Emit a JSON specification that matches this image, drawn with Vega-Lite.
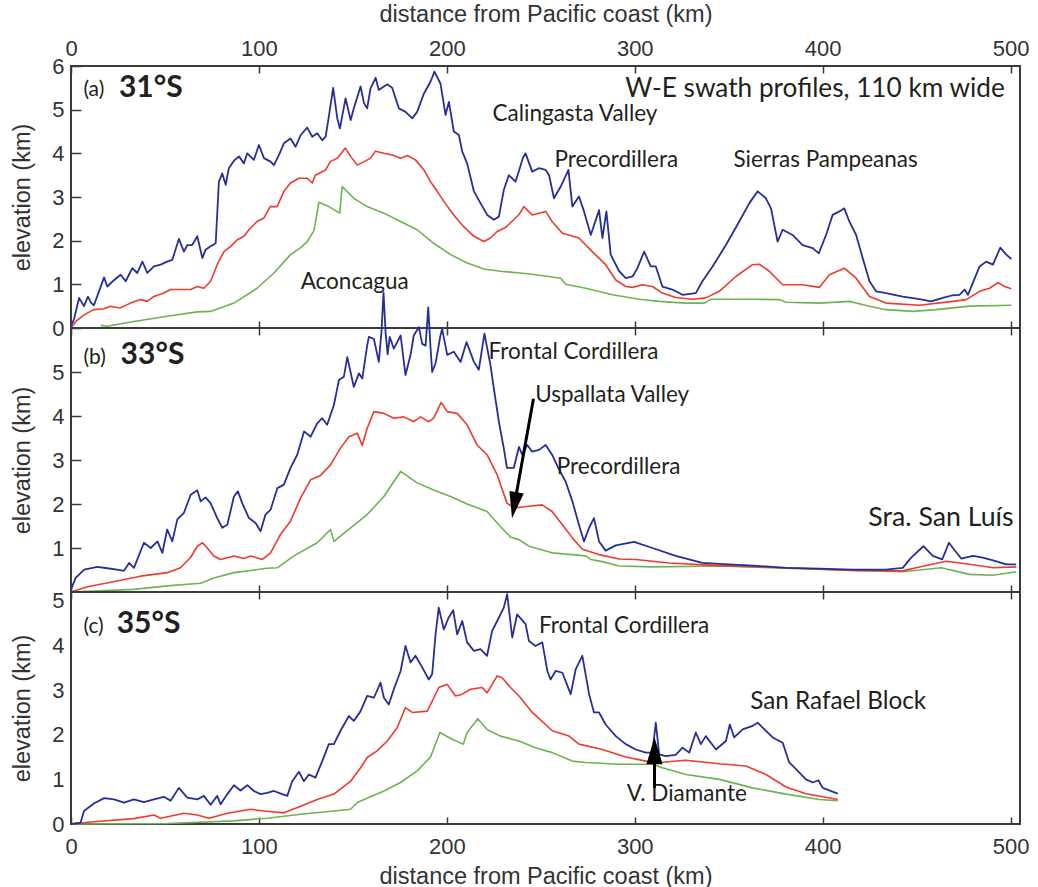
{
"$schema":"https://vega.github.io/schema/vega-lite/v6.json",
"background":"white",
"padding":{"left":9,"top":1,"right":5,"bottom":5},
"autosize":{"type":"pad"},
"config":{
 "view":{"stroke":"#3a3a3a","strokeWidth":2},
 "axis":{"labelFont":"Liberation Sans","titleFont":"Liberation Sans","labelFontSize":22,"titleFontSize":23.5,"labelColor":"#333333","titleColor":"#333333","titleFontWeight":"normal","domain":false,"grid":false,"tickColor":"#3a3a3a","tickWidth":1.5,"labelFlush":false},
 "text":{"font":"Lato","color":"#231f20"},
 "line":{"strokeJoin":"round"}
},
"datasets":{
 "aMax":[{"d":0,"h":0.04},{"d":1.6,"h":0.2},{"d":4.3,"h":0.69},{"d":6,"h":0.57},{"d":6.9,"h":0.5},{"d":9,"h":0.72},{"d":10.8,"h":0.57},{"d":12.2,"h":0.52},{"d":14.9,"h":0.84},{"d":17.6,"h":1.16},{"d":19.3,"h":0.95},{"d":23,"h":1.1},{"d":26.4,"h":1.22},{"d":29.1,"h":1.07},{"d":32.6,"h":1.37},{"d":35.3,"h":1.26},{"d":38,"h":1.52},{"d":40.6,"h":1.26},{"d":44.1,"h":1.41},{"d":47.7,"h":1.45},{"d":51.2,"h":1.52},{"d":53.9,"h":1.56},{"d":57.4,"h":2.04},{"d":60.1,"h":1.75},{"d":61.9,"h":1.9},{"d":64.5,"h":1.9},{"d":67.2,"h":2.1},{"d":69.9,"h":1.6},{"d":71.6,"h":1.79},{"d":74.3,"h":1.87},{"d":77,"h":1.94},{"d":78.7,"h":3.35},{"d":80.5,"h":3.54},{"d":82.3,"h":3.28},{"d":84,"h":3.66},{"d":86.7,"h":3.83},{"d":89.4,"h":3.93},{"d":92,"h":3.77},{"d":93.8,"h":4.0},{"d":97.3,"h":3.85},{"d":100,"h":4.19},{"d":102.7,"h":3.89},{"d":106.2,"h":3.81},{"d":108,"h":3.73},{"d":110.6,"h":3.96},{"d":113.3,"h":4.23},{"d":116.8,"h":4.34},{"d":119.5,"h":4.15},{"d":122.2,"h":4.42},{"d":125.7,"h":4.59},{"d":128.4,"h":4.38},{"d":131,"h":4.46},{"d":133.7,"h":4.3},{"d":135.5,"h":4.38},{"d":137.2,"h":4.84},{"d":139.5,"h":5.5},{"d":141.7,"h":4.8},{"d":143.1,"h":4.57},{"d":146.1,"h":5.26},{"d":148.8,"h":4.76},{"d":150.5,"h":5.03},{"d":154.1,"h":5.53},{"d":155.9,"h":5.15},{"d":157.6,"h":5.03},{"d":159.4,"h":5.49},{"d":162.1,"h":5.73},{"d":163.8,"h":5.45},{"d":168.3,"h":5.58},{"d":170.9,"h":5.5},{"d":174.5,"h":5.03},{"d":178,"h":4.95},{"d":181.6,"h":4.8},{"d":184.2,"h":4.95},{"d":187.8,"h":5.37},{"d":191.3,"h":5.64},{"d":193.4,"h":5.87},{"d":196.6,"h":5.6},{"d":199.3,"h":4.88},{"d":201.1,"h":5.18},{"d":203.7,"h":4.5},{"d":206.4,"h":4.42},{"d":208.2,"h":4.04},{"d":210.8,"h":3.77},{"d":214.4,"h":3.13},{"d":217.9,"h":2.86},{"d":221.5,"h":2.59},{"d":225,"h":2.48},{"d":227.7,"h":2.55},{"d":230.3,"h":3.16},{"d":233,"h":3.5},{"d":236.5,"h":3.35},{"d":238.4,"h":3.6},{"d":240.5,"h":3.9},{"d":241.9,"h":4.0},{"d":245.4,"h":3.58},{"d":249,"h":3.66},{"d":252.6,"h":3.62},{"d":254.4,"h":3.5},{"d":257,"h":2.97},{"d":260.6,"h":3.24},{"d":264.7,"h":3.62},{"d":266.8,"h":2.78},{"d":270.3,"h":3.01},{"d":273,"h":2.67},{"d":276.6,"h":2.13},{"d":281,"h":2.7},{"d":282.8,"h":2.06},{"d":284.9,"h":2.67},{"d":287.2,"h":1.68},{"d":291.7,"h":1.3},{"d":295.2,"h":1.14},{"d":298.8,"h":1.18},{"d":301.4,"h":1.37},{"d":305,"h":1.75},{"d":308.5,"h":1.41},{"d":311.2,"h":1.41},{"d":314.7,"h":0.95},{"d":320,"h":0.88},{"d":325.4,"h":0.76},{"d":332.5,"h":0.8},{"d":336,"h":1.07},{"d":341.4,"h":1.41},{"d":348.5,"h":1.9},{"d":355.6,"h":2.44},{"d":361,"h":2.86},{"d":365.4,"h":3.13},{"d":369.8,"h":2.97},{"d":372.5,"h":2.74},{"d":376,"h":1.98},{"d":378.7,"h":2.25},{"d":384,"h":2.13},{"d":389.3,"h":1.9},{"d":394.7,"h":1.83},{"d":397.9,"h":1.71},{"d":401.8,"h":2.13},{"d":405.3,"h":2.59},{"d":408.9,"h":2.67},{"d":411.5,"h":2.74},{"d":414.2,"h":2.44},{"d":417.8,"h":2.13},{"d":421.3,"h":1.6},{"d":424.9,"h":1.07},{"d":428.4,"h":0.84},{"d":433.7,"h":0.8},{"d":442.6,"h":0.72},{"d":451.5,"h":0.66},{"d":457.7,"h":0.61},{"d":463.9,"h":0.69},{"d":469.3,"h":0.75},{"d":472.8,"h":0.76},{"d":475.5,"h":0.88},{"d":477.3,"h":0.76},{"d":483.5,"h":1.41},{"d":487,"h":1.52},{"d":490.6,"h":1.45},{"d":494.5,"h":1.84},{"d":497.7,"h":1.68},{"d":500.4,"h":1.58}],
 "aMean":[{"d":0,"h":0},{"d":2.5,"h":0.15},{"d":7,"h":0.3},{"d":12,"h":0.42},{"d":17.5,"h":0.44},{"d":21,"h":0.5},{"d":26,"h":0.46},{"d":31.7,"h":0.57},{"d":37,"h":0.65},{"d":40.6,"h":0.61},{"d":44,"h":0.72},{"d":49.5,"h":0.8},{"d":53,"h":0.88},{"d":58.3,"h":0.88},{"d":63.7,"h":0.88},{"d":67.2,"h":0.95},{"d":70.7,"h":0.91},{"d":74.3,"h":1.07},{"d":77.8,"h":1.45},{"d":81.4,"h":1.75},{"d":85,"h":1.87},{"d":88.5,"h":2.02},{"d":92,"h":2.1},{"d":94.7,"h":2.25},{"d":99,"h":2.44},{"d":102.7,"h":2.52},{"d":106,"h":2.78},{"d":109.7,"h":2.78},{"d":113.3,"h":3.13},{"d":116.8,"h":3.32},{"d":121.3,"h":3.43},{"d":125.7,"h":3.43},{"d":128.4,"h":3.32},{"d":130,"h":3.5},{"d":135.5,"h":3.62},{"d":138,"h":3.81},{"d":141.7,"h":3.89},{"d":146,"h":4.12},{"d":148.8,"h":3.93},{"d":152.3,"h":3.73},{"d":156,"h":3.81},{"d":159.4,"h":3.89},{"d":162,"h":4.05},{"d":166.5,"h":4.0},{"d":171,"h":3.96},{"d":175.4,"h":3.89},{"d":179,"h":3.95},{"d":183.3,"h":3.85},{"d":187.8,"h":3.62},{"d":191.3,"h":3.35},{"d":194.9,"h":3.13},{"d":198.4,"h":2.9},{"d":203.7,"h":2.59},{"d":209,"h":2.32},{"d":214.4,"h":2.1},{"d":219.7,"h":1.98},{"d":223.2,"h":2.06},{"d":226.8,"h":2.21},{"d":231.2,"h":2.3},{"d":235.6,"h":2.48},{"d":238.4,"h":2.6},{"d":241,"h":2.78},{"d":245.4,"h":2.59},{"d":252.6,"h":2.67},{"d":256,"h":2.44},{"d":261.5,"h":2.17},{"d":270.3,"h":2.06},{"d":277.4,"h":1.75},{"d":284.5,"h":1.45},{"d":289.9,"h":1.1},{"d":295.2,"h":0.95},{"d":298.8,"h":0.93},{"d":304,"h":0.99},{"d":309.4,"h":0.95},{"d":314.7,"h":0.8},{"d":321.8,"h":0.7},{"d":330.7,"h":0.66},{"d":337.8,"h":0.69},{"d":345,"h":0.84},{"d":353.8,"h":1.18},{"d":362.7,"h":1.45},{"d":366.3,"h":1.46},{"d":371.6,"h":1.3},{"d":378.7,"h":0.99},{"d":389.3,"h":0.99},{"d":398.2,"h":0.93},{"d":403.6,"h":1.22},{"d":411.5,"h":1.37},{"d":417.8,"h":1.14},{"d":424.9,"h":0.72},{"d":433.7,"h":0.57},{"d":451.5,"h":0.52},{"d":469.3,"h":0.61},{"d":476.4,"h":0.65},{"d":483.5,"h":0.84},{"d":488.8,"h":0.91},{"d":493.3,"h":1.04},{"d":496.8,"h":0.95},{"d":500.4,"h":0.9}],
 "aMin":[{"d":15.8,"h":0.06},{"d":19.3,"h":0.04},{"d":33.5,"h":0.15},{"d":51.2,"h":0.27},{"d":67.2,"h":0.37},{"d":74.3,"h":0.38},{"d":86.7,"h":0.57},{"d":99,"h":0.91},{"d":108,"h":1.26},{"d":116.8,"h":1.68},{"d":122.2,"h":1.84},{"d":125.7,"h":1.98},{"d":129.3,"h":2.23},{"d":131.9,"h":2.88},{"d":137.2,"h":2.78},{"d":143,"h":2.63},{"d":144.3,"h":3.24},{"d":150.5,"h":2.97},{"d":157.6,"h":2.78},{"d":166.5,"h":2.63},{"d":175.4,"h":2.44},{"d":184.2,"h":2.25},{"d":193,"h":1.94},{"d":202,"h":1.68},{"d":210.8,"h":1.49},{"d":219.7,"h":1.35},{"d":228.5,"h":1.3},{"d":238.8,"h":1.26},{"d":245.4,"h":1.23},{"d":260.6,"h":1.14},{"d":263.2,"h":1.0},{"d":273.9,"h":0.91},{"d":288.1,"h":0.76},{"d":302.3,"h":0.66},{"d":313,"h":0.61},{"d":327.2,"h":0.57},{"d":337,"h":0.57},{"d":340.5,"h":0.66},{"d":362.7,"h":0.66},{"d":376.9,"h":0.65},{"d":380.5,"h":0.59},{"d":398.2,"h":0.57},{"d":414.2,"h":0.61},{"d":424.9,"h":0.5},{"d":433.7,"h":0.42},{"d":447.9,"h":0.38},{"d":460.4,"h":0.42},{"d":478.1,"h":0.5},{"d":500.4,"h":0.52}],
 "bMax":[{"d":0,"h":0.06},{"d":2.5,"h":0.32},{"d":7,"h":0.51},{"d":14,"h":0.57},{"d":19.3,"h":0.54},{"d":24.6,"h":0.51},{"d":28.2,"h":0.48},{"d":30.9,"h":0.66},{"d":33.5,"h":0.55},{"d":38.8,"h":1.12},{"d":42.4,"h":1.0},{"d":46,"h":1.15},{"d":48.6,"h":0.89},{"d":51.2,"h":1.42},{"d":53.9,"h":1.15},{"d":56.6,"h":1.65},{"d":60.1,"h":1.8},{"d":63.7,"h":2.21},{"d":67.2,"h":2.31},{"d":69,"h":2.06},{"d":71.6,"h":2.15},{"d":74.3,"h":2.02},{"d":77.8,"h":1.68},{"d":80.5,"h":1.46},{"d":83.2,"h":1.53},{"d":86.7,"h":2.17},{"d":88.8,"h":2.29},{"d":91.1,"h":2.02},{"d":94.7,"h":1.68},{"d":98.2,"h":1.57},{"d":100.9,"h":1.38},{"d":103.5,"h":1.76},{"d":106.2,"h":1.87},{"d":109.8,"h":2.36},{"d":113.3,"h":2.44},{"d":116.8,"h":2.82},{"d":120.4,"h":3.12},{"d":124,"h":3.65},{"d":127.5,"h":3.53},{"d":131,"h":3.83},{"d":133.7,"h":3.95},{"d":136.3,"h":3.8},{"d":139.9,"h":4.25},{"d":142.6,"h":4.82},{"d":145.2,"h":4.89},{"d":147,"h":5.34},{"d":150.5,"h":4.66},{"d":153.2,"h":4.97},{"d":155,"h":4.85},{"d":157.6,"h":5.6},{"d":158.5,"h":5.8},{"d":161.2,"h":5.75},{"d":163.8,"h":5.23},{"d":165.2,"h":5.9},{"d":166.3,"h":6.81},{"d":167.4,"h":5.9},{"d":168.5,"h":5.4},{"d":169.6,"h":5.8},{"d":171.8,"h":5.53},{"d":175.4,"h":5.83},{"d":178,"h":4.93},{"d":180.7,"h":5.39},{"d":182.4,"h":5.83},{"d":185.1,"h":6.02},{"d":186.9,"h":5.64},{"d":188.7,"h":5.6},{"d":190.1,"h":6.47},{"d":191.4,"h":5.5},{"d":192.2,"h":5.0},{"d":194,"h":5.2},{"d":196.6,"h":5.83},{"d":197.5,"h":5.98},{"d":200.2,"h":5.39},{"d":203.7,"h":5.46},{"d":207.3,"h":5.23},{"d":210.5,"h":5.68},{"d":214.4,"h":5.23},{"d":217,"h":5.05},{"d":220,"h":5.87},{"d":223.2,"h":5.16},{"d":225,"h":4.63},{"d":227.7,"h":3.87},{"d":230.3,"h":3.27},{"d":232,"h":2.82},{"d":235.6,"h":2.82},{"d":238.4,"h":3.3},{"d":240.1,"h":3.12},{"d":242.8,"h":3.34},{"d":245.4,"h":3.19},{"d":249,"h":3.23},{"d":252.6,"h":3.34},{"d":256,"h":3.12},{"d":259.7,"h":2.78},{"d":263.2,"h":2.51},{"d":266.8,"h":2.06},{"d":270.3,"h":1.53},{"d":273,"h":1.15},{"d":275.7,"h":1.46},{"d":278.3,"h":1.68},{"d":281,"h":1.15},{"d":284.5,"h":0.94},{"d":289.9,"h":1.06},{"d":299.6,"h":1.14},{"d":309.4,"h":1.0},{"d":321.8,"h":0.82},{"d":336,"h":0.66},{"d":345,"h":0.64},{"d":362.7,"h":0.6},{"d":380.5,"h":0.55},{"d":398.2,"h":0.53},{"d":416,"h":0.51},{"d":433.7,"h":0.51},{"d":442.6,"h":0.55},{"d":447.1,"h":0.78},{"d":453.6,"h":1.04},{"d":458.6,"h":0.82},{"d":463.6,"h":0.74},{"d":467.2,"h":1.12},{"d":469.3,"h":1.0},{"d":473.7,"h":0.76},{"d":480,"h":0.82},{"d":485.2,"h":0.78},{"d":490.6,"h":0.72},{"d":497.7,"h":0.63},{"d":503,"h":0.63}],
 "bMean":[{"d":0,"h":0},{"d":8.7,"h":0.12},{"d":24.6,"h":0.25},{"d":37,"h":0.36},{"d":51.2,"h":0.44},{"d":58.3,"h":0.55},{"d":63.7,"h":0.79},{"d":67.2,"h":1.04},{"d":70,"h":1.12},{"d":72.5,"h":1.0},{"d":76,"h":0.82},{"d":79.6,"h":0.74},{"d":86.7,"h":0.82},{"d":92,"h":0.76},{"d":95.6,"h":0.82},{"d":101.8,"h":0.74},{"d":106.2,"h":0.89},{"d":111.5,"h":1.31},{"d":116.8,"h":1.61},{"d":122.2,"h":2.14},{"d":127.5,"h":2.55},{"d":132.8,"h":2.65},{"d":138.1,"h":2.89},{"d":143.4,"h":3.27},{"d":147.9,"h":3.53},{"d":152.3,"h":3.61},{"d":155,"h":3.33},{"d":157.6,"h":3.72},{"d":161.2,"h":4.1},{"d":166.5,"h":4.06},{"d":171.8,"h":3.95},{"d":177.1,"h":3.98},{"d":182.4,"h":3.87},{"d":186,"h":3.98},{"d":190.4,"h":3.87},{"d":193,"h":3.95},{"d":197,"h":4.31},{"d":200.2,"h":4.1},{"d":205.5,"h":4.06},{"d":210.8,"h":3.8},{"d":216.1,"h":3.34},{"d":221.4,"h":3.12},{"d":226.8,"h":2.66},{"d":232,"h":2.02},{"d":235.6,"h":1.91},{"d":243.7,"h":1.95},{"d":250.8,"h":1.98},{"d":256,"h":1.83},{"d":261.5,"h":1.53},{"d":266.8,"h":1.23},{"d":272.1,"h":0.97},{"d":281,"h":0.85},{"d":291.7,"h":0.75},{"d":300.5,"h":0.74},{"d":318.3,"h":0.66},{"d":345,"h":0.6},{"d":380.5,"h":0.55},{"d":416,"h":0.49},{"d":442.6,"h":0.48},{"d":451.5,"h":0.57},{"d":465.7,"h":0.7},{"d":478.1,"h":0.63},{"d":490.6,"h":0.55},{"d":503,"h":0.57}],
 "bMin":[{"d":0,"h":0},{"d":33.5,"h":0.06},{"d":51.2,"h":0.14},{"d":69,"h":0.2},{"d":76,"h":0.32},{"d":86.7,"h":0.44},{"d":104.4,"h":0.54},{"d":109.8,"h":0.55},{"d":118.6,"h":0.82},{"d":131,"h":1.12},{"d":138.1,"h":1.42},{"d":139.9,"h":1.15},{"d":148.8,"h":1.46},{"d":157.6,"h":1.76},{"d":166.5,"h":2.17},{"d":175.4,"h":2.74},{"d":184.2,"h":2.48},{"d":193,"h":2.32},{"d":202,"h":2.17},{"d":210.8,"h":2.0},{"d":221.4,"h":1.83},{"d":228.5,"h":1.49},{"d":233.8,"h":1.25},{"d":238.4,"h":1.19},{"d":243.7,"h":1.04},{"d":256,"h":0.89},{"d":273.9,"h":0.82},{"d":276.6,"h":0.74},{"d":282.8,"h":0.69},{"d":291.7,"h":0.59},{"d":309.4,"h":0.57},{"d":345,"h":0.59},{"d":380.5,"h":0.54},{"d":416,"h":0.49},{"d":442.6,"h":0.46},{"d":463,"h":0.55},{"d":478.1,"h":0.4},{"d":490.6,"h":0.38},{"d":503,"h":0.46}],
 "cMax":[{"d":0,"h":0},{"d":5.1,"h":0.03},{"d":6.9,"h":0.29},{"d":12.2,"h":0.46},{"d":17.6,"h":0.58},{"d":22.9,"h":0.55},{"d":28.2,"h":0.48},{"d":33.5,"h":0.55},{"d":38.8,"h":0.49},{"d":44.1,"h":0.55},{"d":49.5,"h":0.61},{"d":53,"h":0.52},{"d":57.4,"h":0.81},{"d":61.9,"h":0.59},{"d":67.2,"h":0.55},{"d":70.7,"h":0.63},{"d":74.3,"h":0.43},{"d":77.8,"h":0.63},{"d":79.6,"h":0.44},{"d":83.2,"h":0.67},{"d":86.7,"h":0.87},{"d":90.2,"h":0.75},{"d":93.8,"h":0.87},{"d":97.3,"h":0.74},{"d":100.9,"h":0.67},{"d":104.4,"h":0.7},{"d":108,"h":0.74},{"d":112.4,"h":0.67},{"d":115.1,"h":0.63},{"d":117.7,"h":0.96},{"d":121.3,"h":1.17},{"d":123.9,"h":0.96},{"d":126.6,"h":1.11},{"d":130.1,"h":1.04},{"d":133.7,"h":1.41},{"d":137.2,"h":1.79},{"d":139.9,"h":1.79},{"d":143.4,"h":2.09},{"d":147.9,"h":2.42},{"d":150.5,"h":2.31},{"d":154.1,"h":2.53},{"d":157.6,"h":2.87},{"d":161.2,"h":2.83},{"d":164.7,"h":3.17},{"d":166.5,"h":2.83},{"d":169.1,"h":2.68},{"d":171.8,"h":3.02},{"d":175.4,"h":3.43},{"d":178,"h":3.99},{"d":180.7,"h":3.62},{"d":183.3,"h":3.77},{"d":186.9,"h":3.51},{"d":190.4,"h":3.24},{"d":192.2,"h":3.36},{"d":194,"h":4.25},{"d":195.7,"h":4.85},{"d":198.4,"h":4.36},{"d":201,"h":4.63},{"d":203.4,"h":4.79},{"d":205.5,"h":4.25},{"d":208.2,"h":4.55},{"d":210.8,"h":4.07},{"d":214.4,"h":3.88},{"d":217.9,"h":3.92},{"d":221.4,"h":3.77},{"d":224.1,"h":4.33},{"d":226.8,"h":4.55},{"d":230.3,"h":4.85},{"d":232.1,"h":5.15},{"d":234.8,"h":4.18},{"d":237.4,"h":4.7},{"d":241.9,"h":4.48},{"d":243.7,"h":4.1},{"d":247.2,"h":3.99},{"d":250.8,"h":4.07},{"d":253.5,"h":3.43},{"d":255.2,"h":3.24},{"d":257.9,"h":3.43},{"d":261.5,"h":3.39},{"d":265.9,"h":2.91},{"d":268.6,"h":3.47},{"d":272.1,"h":3.77},{"d":275.7,"h":2.91},{"d":278.3,"h":2.5},{"d":281,"h":2.5},{"d":284.5,"h":2.23},{"d":289.9,"h":1.97},{"d":295.2,"h":1.79},{"d":300.5,"h":1.67},{"d":305.9,"h":1.6},{"d":309.4,"h":1.6},{"d":311.2,"h":2.27},{"d":313,"h":1.56},{"d":316.5,"h":1.52},{"d":321.8,"h":1.55},{"d":325.4,"h":1.71},{"d":329,"h":1.6},{"d":332.5,"h":2.05},{"d":335.2,"h":1.79},{"d":337.8,"h":1.97},{"d":343.2,"h":1.67},{"d":348.5,"h":1.86},{"d":350.6,"h":2.23},{"d":352.9,"h":1.94},{"d":357.4,"h":2.12},{"d":362.7,"h":2.2},{"d":365.4,"h":2.27},{"d":369,"h":2.12},{"d":373.4,"h":1.94},{"d":378.7,"h":1.82},{"d":382.2,"h":1.38},{"d":385.8,"h":1.23},{"d":391.1,"h":1.0},{"d":394.7,"h":0.93},{"d":397.7,"h":0.98},{"d":400,"h":0.81},{"d":408,"h":0.68}],
 "cMean":[{"d":0,"h":0},{"d":12.2,"h":0.05},{"d":33.5,"h":0.12},{"d":44.1,"h":0.2},{"d":47.7,"h":0.13},{"d":60.1,"h":0.24},{"d":67.2,"h":0.2},{"d":73.4,"h":0.13},{"d":83.2,"h":0.24},{"d":95.6,"h":0.33},{"d":102.7,"h":0.29},{"d":113.3,"h":0.25},{"d":122.2,"h":0.4},{"d":131,"h":0.55},{"d":139.9,"h":0.67},{"d":148.8,"h":0.96},{"d":154.1,"h":1.26},{"d":157.6,"h":1.49},{"d":162.9,"h":1.64},{"d":168.3,"h":1.86},{"d":173.6,"h":2.16},{"d":178,"h":2.61},{"d":181.6,"h":2.5},{"d":189.6,"h":2.53},{"d":193.1,"h":2.83},{"d":195.7,"h":3.06},{"d":200.2,"h":3.13},{"d":204.6,"h":2.87},{"d":208.2,"h":2.91},{"d":212.6,"h":3.02},{"d":218.8,"h":3.06},{"d":221.4,"h":2.94},{"d":226.8,"h":3.32},{"d":229.4,"h":3.28},{"d":233.9,"h":3.06},{"d":238.4,"h":2.87},{"d":245.5,"h":2.5},{"d":256.1,"h":2.09},{"d":265,"h":1.97},{"d":270.3,"h":1.79},{"d":282.8,"h":1.67},{"d":295.2,"h":1.5},{"d":305.9,"h":1.41},{"d":313,"h":1.38},{"d":327.2,"h":1.43},{"d":345,"h":1.35},{"d":359.1,"h":1.3},{"d":369.8,"h":1.11},{"d":380.5,"h":0.83},{"d":391.1,"h":0.68},{"d":408,"h":0.55}],
 "cMin":[{"d":0,"h":0},{"d":51.2,"h":0.01},{"d":86.7,"h":0.07},{"d":104.4,"h":0.13},{"d":122.2,"h":0.22},{"d":139.9,"h":0.29},{"d":148.8,"h":0.33},{"d":152.3,"h":0.48},{"d":166.5,"h":0.74},{"d":175.4,"h":0.93},{"d":184.2,"h":1.19},{"d":191.3,"h":1.5},{"d":196.3,"h":2.05},{"d":202.8,"h":1.9},{"d":208.7,"h":1.79},{"d":210.8,"h":2.05},{"d":216.5,"h":2.36},{"d":221.4,"h":2.12},{"d":228.5,"h":1.97},{"d":238.4,"h":1.86},{"d":247.2,"h":1.71},{"d":256.1,"h":1.6},{"d":266.8,"h":1.41},{"d":273.9,"h":1.38},{"d":291.7,"h":1.34},{"d":309.4,"h":1.34},{"d":314.7,"h":1.26},{"d":327.2,"h":1.11},{"d":345,"h":1.0},{"d":362.7,"h":0.81},{"d":380.5,"h":0.67},{"d":398.2,"h":0.55},{"d":408,"h":0.52}]
},
"spacing":0,
"bounds":"flush",
"vconcat":[
 {"width":949,"height":262,
  "resolve":{"axis":{"x":"independent","y":"independent"}},
  "layer":[
   {"data":{"name":"aMin"},"mark":{"type":"line","color":"#6cb352","strokeWidth":1.6},
    "encoding":{"x":{"field":"d","type":"quantitative","scale":{"domain":[0,505],"nice":false},"axis":{"orient":"top","values":[0,100,200,300,400,500],"tickSize":-7,"labelPadding":13,"title":"distance from Pacific coast (km)","titlePadding":11}},
     "y":{"field":"h","type":"quantitative","scale":{"domain":[0,6],"nice":false},"axis":{"values":[0,1,2,3,4,5,6],"tickSize":-10,"labelPadding":17,"title":"elevation (km)","titlePadding":17}}}},
   {"data":{"name":"aMean"},"mark":{"type":"line","color":"#ef3a2d","strokeWidth":1.6},
    "encoding":{"x":{"field":"d","type":"quantitative","scale":{"domain":[0,505],"nice":false},"axis":{"orient":"bottom","values":[0,100,200,300,400,500],"tickSize":-7,"labels":false,"title":null}},
     "y":{"field":"h","type":"quantitative","scale":{"domain":[0,6],"nice":false},"axis":null}}},
   {"data":{"name":"aMax"},"mark":{"type":"line","color":"#262f97","strokeWidth":1.8},
    "encoding":{"x":{"field":"d","type":"quantitative","scale":{"domain":[0,505],"nice":false},"axis":null},
     "y":{"field":"h","type":"quantitative","scale":{"domain":[0,6],"nice":false},"axis":null}}},
   {"data":{"values":[{"d":6.6,"h":5.32,"t":"(a)"}]},"mark":{"type":"text","align":"left","baseline":"alphabetic","fontSize":21},
    "encoding":{"x":{"field":"d","type":"quantitative","scale":{"domain":[0,505],"nice":false},"axis":null},"y":{"field":"h","type":"quantitative","scale":{"domain":[0,6],"nice":false},"axis":null},"text":{"field":"t"}}},
   {"data":{"values":[{"d":25.5,"h":5.3,"t":"31°S"}]},"mark":{"type":"text","align":"left","baseline":"alphabetic","fontSize":30,"fontWeight":"bold"},
    "encoding":{"x":{"field":"d","type":"quantitative","scale":{"domain":[0,505],"nice":false},"axis":null},"y":{"field":"h","type":"quantitative","scale":{"domain":[0,6],"nice":false},"axis":null},"text":{"field":"t"}}},
   {"data":{"values":[{"d":295,"h":5.3,"t":"W-E swath profiles, 110 km wide"}]},"mark":{"type":"text","align":"left","baseline":"alphabetic","fontSize":26.2},
    "encoding":{"x":{"field":"d","type":"quantitative","scale":{"domain":[0,505],"nice":false},"axis":null},"y":{"field":"h","type":"quantitative","scale":{"domain":[0,6],"nice":false},"axis":null},"text":{"field":"t"}}},
   {"data":{"values":[{"d":224.3,"h":4.73,"t":"Calingasta Valley"},{"d":257.3,"h":3.68,"t":"Precordillera"},{"d":352.5,"h":3.68,"t":"Sierras Pampeanas"},{"d":122.2,"h":0.9,"t":"Aconcagua"}]},"mark":{"type":"text","align":"left","baseline":"alphabetic","fontSize":22.5},
    "encoding":{"x":{"field":"d","type":"quantitative","scale":{"domain":[0,505],"nice":false},"axis":null},"y":{"field":"h","type":"quantitative","scale":{"domain":[0,6],"nice":false},"axis":null},"text":{"field":"t"}}}
  ]},
 {"width":949,"height":264,
  "resolve":{"axis":{"x":"independent","y":"independent"}},
  "layer":[
   {"data":{"name":"bMin"},"mark":{"type":"line","color":"#6cb352","strokeWidth":1.6},
    "encoding":{"x":{"field":"d","type":"quantitative","scale":{"domain":[0,505],"nice":false},"axis":{"orient":"top","values":[0,100,200,300,400,500],"tickSize":-7,"labels":false,"title":null}},
     "y":{"field":"h","type":"quantitative","scale":{"domain":[0,6],"nice":false},"axis":{"values":[1,2,3,4,5],"tickSize":-10,"labelPadding":17,"title":"elevation (km)","titlePadding":17}}}},
   {"data":{"name":"bMean"},"mark":{"type":"line","color":"#ef3a2d","strokeWidth":1.6},
    "encoding":{"x":{"field":"d","type":"quantitative","scale":{"domain":[0,505],"nice":false},"axis":{"orient":"bottom","values":[0,100,200,300,400,500],"tickSize":-7,"labels":false,"title":null}},
     "y":{"field":"h","type":"quantitative","scale":{"domain":[0,6],"nice":false},"axis":null}}},
   {"data":{"name":"bMax"},"mark":{"type":"line","color":"#262f97","strokeWidth":1.8},
    "encoding":{"x":{"field":"d","type":"quantitative","scale":{"domain":[0,505],"nice":false},"axis":null},
     "y":{"field":"h","type":"quantitative","scale":{"domain":[0,6],"nice":false},"axis":null}}},
   {"data":{"values":[{"d":6.6,"h":5.19,"t":"(b)"}]},"mark":{"type":"text","align":"left","baseline":"alphabetic","fontSize":21},
    "encoding":{"x":{"field":"d","type":"quantitative","scale":{"domain":[0,505],"nice":false},"axis":null},"y":{"field":"h","type":"quantitative","scale":{"domain":[0,6],"nice":false},"axis":null},"text":{"field":"t"}}},
   {"data":{"values":[{"d":26.4,"h":5.19,"t":"33°S"}]},"mark":{"type":"text","align":"left","baseline":"alphabetic","fontSize":30,"fontWeight":"bold"},
    "encoding":{"x":{"field":"d","type":"quantitative","scale":{"domain":[0,505],"nice":false},"axis":null},"y":{"field":"h","type":"quantitative","scale":{"domain":[0,6],"nice":false},"axis":null},"text":{"field":"t"}}},
   {"data":{"values":[{"d":424.3,"h":1.49,"t":"Sra. San Luís"}]},"mark":{"type":"text","align":"left","baseline":"alphabetic","fontSize":26.7},
    "encoding":{"x":{"field":"d","type":"quantitative","scale":{"domain":[0,505],"nice":false},"axis":null},"y":{"field":"h","type":"quantitative","scale":{"domain":[0,6],"nice":false},"axis":null},"text":{"field":"t"}}},
   {"data":{"values":[{"d":222.2,"h":5.3,"t":"Frontal Cordillera"},{"d":247,"h":4.32,"t":"Uspallata Valley"},{"d":258.5,"h":2.69,"t":"Precordillera"}]},"mark":{"type":"text","align":"left","baseline":"alphabetic","fontSize":22.5},
    "encoding":{"x":{"field":"d","type":"quantitative","scale":{"domain":[0,505],"nice":false},"axis":null},"y":{"field":"h","type":"quantitative","scale":{"domain":[0,6],"nice":false},"axis":null},"text":{"field":"t"}}},
   {"data":{"values":[{"d":246.1,"h":4.39,"d2":235.9,"h2":1.97}]},"mark":{"type":"rule","color":"#000000","strokeWidth":3},
    "encoding":{"x":{"field":"d","type":"quantitative","scale":{"domain":[0,505],"nice":false},"axis":null},"y":{"field":"h","type":"quantitative","scale":{"domain":[0,6],"nice":false},"axis":null},"x2":{"field":"d2"},"y2":{"field":"h2"}}},
   {"data":{"values":[{"d":235.9,"h":1.97}]},"mark":{"type":"point","shape":"M0,-1L0.55,1L-0.55,1Z","filled":true,"color":"#000000","opacity":1,"size":700,"angle":190},
    "encoding":{"x":{"field":"d","type":"quantitative","scale":{"domain":[0,505],"nice":false},"axis":null},"y":{"field":"h","type":"quantitative","scale":{"domain":[0,6],"nice":false},"axis":null}}}
  ]},
 {"width":949,"height":232,
  "resolve":{"axis":{"x":"independent","y":"independent"}},
  "layer":[
   {"data":{"name":"cMin"},"mark":{"type":"line","color":"#6cb352","strokeWidth":1.6},
    "encoding":{"x":{"field":"d","type":"quantitative","scale":{"domain":[0,505],"nice":false},"axis":{"orient":"top","values":[0,100,200,300,400,500],"tickSize":-7,"labels":false,"title":null}},
     "y":{"field":"h","type":"quantitative","scale":{"domain":[0,5.2],"nice":false},"axis":{"values":[0,1,2,3,4,5],"ticks":false,"labelPadding":7,"title":"elevation (km)","titlePadding":17}}}},
   {"data":{"name":"cMean"},"mark":{"type":"line","color":"#ef3a2d","strokeWidth":1.6},
    "encoding":{"x":{"field":"d","type":"quantitative","scale":{"domain":[0,505],"nice":false},"axis":{"orient":"bottom","values":[0,100,200,300,400,500],"tickSize":-7,"labelPadding":19,"title":"distance from Pacific coast (km)","titlePadding":7}},
     "y":{"field":"h","type":"quantitative","scale":{"domain":[0,5.2],"nice":false},"axis":null}}},
   {"data":{"name":"cMax"},"mark":{"type":"line","color":"#262f97","strokeWidth":1.8},
    "encoding":{"x":{"field":"d","type":"quantitative","scale":{"domain":[0,505],"nice":false},"axis":null},
     "y":{"field":"h","type":"quantitative","scale":{"domain":[0,5.2],"nice":false},"axis":null}}},
   {"data":{"values":[{"d":6.6,"h":4.29,"t":"(c)"}]},"mark":{"type":"text","align":"left","baseline":"alphabetic","fontSize":21},
    "encoding":{"x":{"field":"d","type":"quantitative","scale":{"domain":[0,505],"nice":false},"axis":null},"y":{"field":"h","type":"quantitative","scale":{"domain":[0,5.2],"nice":false},"axis":null},"text":{"field":"t"}}},
   {"data":{"values":[{"d":24.3,"h":4.27,"t":"35°S"}]},"mark":{"type":"text","align":"left","baseline":"alphabetic","fontSize":30,"fontWeight":"bold"},
    "encoding":{"x":{"field":"d","type":"quantitative","scale":{"domain":[0,505],"nice":false},"axis":null},"y":{"field":"h","type":"quantitative","scale":{"domain":[0,5.2],"nice":false},"axis":null},"text":{"field":"t"}}},
   {"data":{"values":[{"d":361.4,"h":2.57,"t":"San Rafael Block"}]},"mark":{"type":"text","align":"left","baseline":"alphabetic","fontSize":24.3},
    "encoding":{"x":{"field":"d","type":"quantitative","scale":{"domain":[0,505],"nice":false},"axis":null},"y":{"field":"h","type":"quantitative","scale":{"domain":[0,5.2],"nice":false},"axis":null},"text":{"field":"t"}}},
   {"data":{"values":[{"d":249.1,"h":4.27,"t":"Frontal Cordillera"},{"d":295.7,"h":0.52,"t":"V. Diamante"}]},"mark":{"type":"text","align":"left","baseline":"alphabetic","fontSize":22.5},
    "encoding":{"x":{"field":"d","type":"quantitative","scale":{"domain":[0,505],"nice":false},"axis":null},"y":{"field":"h","type":"quantitative","scale":{"domain":[0,5.2],"nice":false},"axis":null},"text":{"field":"t"}}},
   {"data":{"values":[{"d":310.5,"h":0.81,"d2":310.5,"h2":1.64}]},"mark":{"type":"rule","color":"#000000","strokeWidth":3},
    "encoding":{"x":{"field":"d","type":"quantitative","scale":{"domain":[0,505],"nice":false},"axis":null},"y":{"field":"h","type":"quantitative","scale":{"domain":[0,5.2],"nice":false},"axis":null},"x2":{"field":"d2"},"y2":{"field":"h2"}}},
   {"data":{"values":[{"d":310.5,"h":1.64}]},"mark":{"type":"point","shape":"M0,-1L0.6,1L-0.6,1Z","filled":true,"color":"#000000","opacity":1,"size":729,"angle":0},
    "encoding":{"x":{"field":"d","type":"quantitative","scale":{"domain":[0,505],"nice":false},"axis":null},"y":{"field":"h","type":"quantitative","scale":{"domain":[0,5.2],"nice":false},"axis":null}}}
  ]}
]
}
